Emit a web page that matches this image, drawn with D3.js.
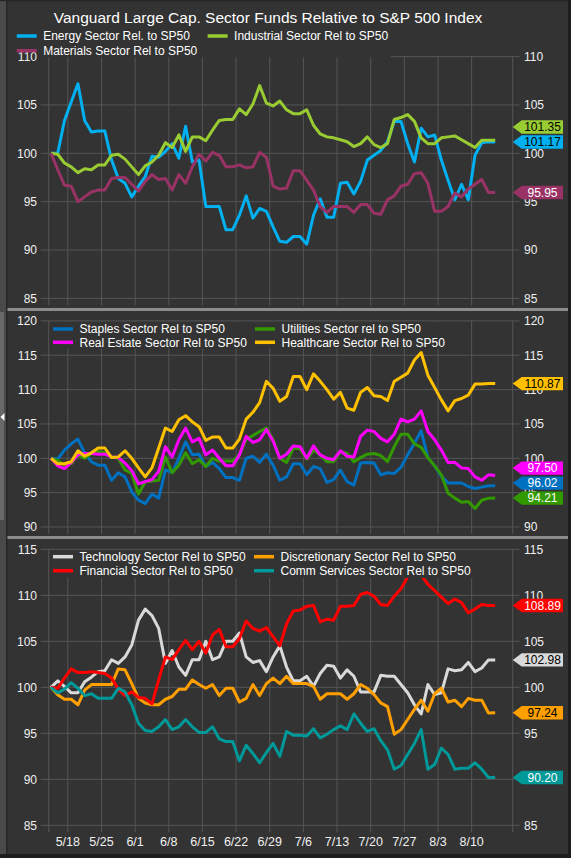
<!DOCTYPE html>
<html>
<head>
<meta charset="utf-8">
<script src="https://cdn.jsdelivr.net/npm/d3@7"></script>
<style>
  body { margin: 0; background: #333; }
  svg { display: block; font-family: "Liberation Sans", Arial, sans-serif; }
</style>
</head>
<body>
<svg id="chart" width="571" height="858"></svg>
<script>
// weekday categories (holidays carried forward in the source sheet)
const dates = ["5/13","5/14","5/15","5/18","5/19","5/20","5/21","5/22","5/25","5/26","5/27","5/28","5/29",
  "6/1","6/2","6/3","6/4","6/5","6/8","6/9","6/10","6/11","6/12","6/15","6/16","6/17","6/18","6/19",
  "6/22","6/23","6/24","6/25","6/26","6/29","6/30","7/1","7/2","7/3","7/6","7/7","7/8","7/9","7/10",
  "7/13","7/14","7/15","7/16","7/17","7/20","7/21","7/22","7/23","7/24","7/27","7/28","7/29","7/30","7/31",
  "8/3","8/4","8/5","8/6","8/7","8/10","8/11","8/12","8/13"];
const weekLabels = ["5/18","5/25","6/1","6/8","6/15","6/22","6/29","7/6","7/13","7/20","7/27","8/3","8/10"];

// panel 1
const energy = [100,100,103.4,105.3,107.2,103.4,102.2,102.3,102.3,99.3,97.4,96.9,95.5,96.6,97.6,99.7,99.6,100.2,101,99.5,
  102.8,99.1,99.3,94.5,94.5,94.5,92.1,92.1,93.6,95.6,93.3,94.3,94,92.4,90.9,90.8,91.4,91.4,90.6,93.6,
  95.3,93.4,93.4,96.9,97,95.8,97.1,99.3,99.8,100.3,101.2,103.3,103.3,101,99.1,102.6,101.7,101.9,99.3,97.2,
  95.2,96.8,95.2,99.8,101.1,101.2,101.17];
const industrial = [100,99.9,99,98.6,98,98.4,98.3,98.8,98.8,99.8,99.9,99.4,98.6,97.8,98.7,99.1,99.8,101.1,100.6,101.9,
  100.2,101.7,101.7,101.3,102.4,103.4,103.5,103.5,104.6,104,105.1,107,105.2,104.9,105.4,104.5,104.1,104.1,104.5,102.9,
  102,101.7,101.6,101.4,101.2,100.7,101,101.7,100.9,100.6,101,103.5,103.7,104,103.3,101.6,101,101,101.6,101.7,
  101.8,101.4,101,100.6,101.35,101.35,101.35];
const materials = [100,98.3,96.7,96.6,95,95.5,96,96.2,96.2,97.4,97.5,97.5,96.8,96.1,97.1,97.8,97.3,97.4,96.2,97.8,
  96.9,98.6,99.9,99.2,100.1,99.8,98.6,98.6,98.8,98.5,98.6,100.1,99.6,96.6,96.3,96.4,98.2,98.2,97.2,96.2,
  94.5,93.9,94.5,94.5,94.5,93.9,94.7,94.7,93.8,93.7,95.2,95.6,96.6,96.8,97.9,98,96.9,94,94,94.5,
  95.9,95.5,96.3,96.8,97.3,95.95,95.95];

// panel 2
const staples = [100,99.9,101.2,102.1,102.8,100.8,99.5,99,99,96.8,97.9,97.3,95.1,93.9,93.4,94.8,94.2,98.3,97.9,100,
  102.4,100.5,100.6,98.8,99.4,98.5,97.2,97.2,96.8,100,100.3,99.4,100.6,99,96.8,97.3,99.2,99.2,97.6,98.8,
  98.5,96.5,96.9,98.3,96.6,96.1,99.3,99.4,99.3,97.6,97.9,97.8,98.7,100.5,102.2,104,100.1,98.9,97.4,96.4,
  96.4,96.4,95.9,95.6,95.8,96,96.02];
const utilities = [100,99.7,99,99.2,100.5,100,100.7,101,100.8,100.2,100,98.3,97.8,94.8,96.6,96.7,96.8,100.2,97.9,99,
  100.8,99.2,99.8,98.8,100,99.6,99.6,99.6,100.5,102.8,103.3,103.9,104.4,102.7,100,99.4,101.5,101.4,99.9,101.2,
  100.5,99.5,99.5,101,100.7,99.5,100.1,100.6,100.7,100.4,99.5,101.7,103.5,103.5,102.1,101.6,100.1,98.9,97.6,94.9,
  94.2,93.6,93.7,92.7,93.9,94.2,94.21];
const realEstate = [100,98.9,98.5,99.4,100.5,100.7,100.7,100.6,100.6,100.2,100.1,99.3,98.2,96.3,96.6,96.9,98.1,101.7,100.2,102.7,
  104.4,102.4,102.9,100.5,101.2,100,98.9,98.9,100.5,103.2,102.3,102.7,104.2,102.5,100,100.6,101.8,101.7,100,101.8,
  100.5,100,99.8,101.1,100.3,100.2,103.2,104.1,103.9,102.9,102.4,103.5,105.7,105.3,105.7,106.9,103.9,102.7,101.2,99.4,
  99.4,98.6,98.5,97.3,96.8,97.6,97.5];
const healthcare = [100,99.2,99.2,99.5,101.1,100.3,100.8,101.5,101.5,100.1,100.2,101.1,100,98.6,97.3,98.6,101.5,104.4,103.9,105.6,
  106.2,105.3,104.6,102.6,103.1,103.1,101.5,101.5,102.8,105.7,106.7,108.1,111.2,110.2,108.3,109,111.9,111.9,110,112.3,
  111.2,110,108.6,109.6,107.3,107,109.6,110.3,109.1,109,108.4,111.2,111.8,112.4,114.3,115.4,112.1,110.3,108.5,106.9,
  108.4,108.7,109.2,110.8,110.8,110.9,110.87];

// panel 3
const technology = [100,100.7,100.1,99.4,99.4,100.6,101.1,101.7,101.8,103,102.6,103.3,104.6,107.3,108.5,107.8,106.4,102.6,104,102.2,
  101.3,103,103,105,103,103.3,105,105,105.9,103.3,102.7,102.9,101.7,103.3,104.5,102.2,100.7,100.7,101.2,100.1,
  101.5,102.4,102.3,101,101.9,101.2,99.5,99.5,99.5,101.3,101.2,101.2,100.3,99.4,98.1,97.1,100.3,99.2,99.4,102,
  101.8,101.9,102.7,101.7,102.1,102.98,102.98];
const discretionary = [100,99.2,98.7,98.7,98.1,99.7,100.3,100.3,100.3,100.3,102,101.9,100.4,98.8,98.3,98.1,98.1,98.7,99,99.8,
  99.8,100.8,100.3,99.9,100.3,99.1,99.9,99.9,98.4,98.8,100.3,99.1,100.4,101,100.4,101.2,100.4,100.4,100.4,100.1,
  98.7,99.3,99.3,99.3,98.7,99.3,100.3,99.9,99.2,98.3,97.9,94.9,95.4,96.5,97.6,98.6,97.4,99.3,99.9,98.4,
  98.6,97.9,98.8,98.6,98.6,97.2,97.24];
const financial = [100,99.9,101,102,101.6,101.6,101.7,101.6,101.5,101,99.8,99.1,99.5,98.9,98.8,98.2,100.8,103.3,103,104.1,
  105.1,104.1,105,103.7,105.7,106.3,104.4,104.4,105.3,107.2,106.4,106.1,106.5,105.5,104.5,106.9,108.3,108.4,108.8,108.9,
  107.1,107.4,107.3,108.8,108.8,108.9,110.1,110.3,109.9,109,108.9,109.9,110.7,112,112.9,112.2,111.2,110.5,109.8,109.1,
  109.6,109.2,108.1,108.5,109,108.9,108.89];
const commServices = [100,99.4,99.8,100.5,99.9,99.1,99.3,98.8,98.8,98.8,99.9,99.5,98.1,96.1,95.3,95.2,95.7,96.5,95.4,95.7,
  96.5,95.7,95.1,95.1,95.7,94.4,94.1,94.1,92,93.7,92.8,91.8,92.9,93.9,92.5,95.2,94.8,94.8,94.7,95.5,
  94.5,94.9,95.4,95.8,95.4,97.1,96.1,95.2,95.5,94.2,93.2,91.1,91.5,92.7,93.9,95.4,91.1,91.6,93.4,92.7,
  91.1,91.2,91.2,91.8,91.1,90.2,90.2];

const panels = [
  {
    domain: [85, 110], range: [298.4, 56.6], step: 5,
    legendBox: [14, 27, 377, 30.3], rows: [36, 50.7], cols: [16.7, 207.6],
    series: [
      {name: "Energy Sector Rel. to SP50", values: energy, color: "#00b0f0", ink: "#000", col: 0, row: 0},
      {name: "Industrial Sector Rel to SP50", values: industrial, color: "#99cc33", ink: "#000", col: 1, row: 0},
      {name: "Materials Sector Rel to SP50", values: materials, color: "#993366", ink: "#fff", col: 0, row: 1}
    ]
  },
  {
    domain: [90, 120], range: [527, 320.9], step: 5,
    legendBox: [50, 322, 398, 26.5], rows: [329, 342.3], cols: [53, 255],
    series: [
      {name: "Staples Sector Rel to SP50", values: staples, color: "#0070c0", ink: "#fff", col: 0, row: 0},
      {name: "Utilities Sector rel to SP50", values: utilities, color: "#339900", ink: "#fff", col: 1, row: 0},
      {name: "Real Estate Sector Rel to SP50", values: realEstate, color: "#ff00ff", ink: "#fff", col: 0, row: 1},
      {name: "Healthcare Sector Rel to SP50", values: healthcare, color: "#ffc000", ink: "#000", col: 1, row: 1}
    ]
  },
  {
    domain: [85, 115], range: [825.3, 549.3], step: 5,
    legendBox: [50, 550.5, 425, 27.5], rows: [556.7, 570.7], cols: [53, 254],
    series: [
      {name: "Technology Sector Rel to SP50", values: technology, color: "#d9d9d9", ink: "#000", col: 0, row: 0},
      {name: "Discretionary Sector Rel to SP50", values: discretionary, color: "#ff9f00", ink: "#000", col: 1, row: 0},
      {name: "Financial Sector Rel to SP50", values: financial, color: "#ff0000", ink: "#fff", col: 0, row: 1},
      {name: "Comm Services Sector Rel to SP50", values: commServices, color: "#009999", ink: "#fff", col: 1, row: 1}
    ]
  }
];

const svg = d3.select("#chart");
const plotLeft = 48.7, plotRight = 512.7;
const grid = "#555555";

// frame
svg.append("rect").attr("width", 571).attr("height", 858).attr("fill", "#333333");
svg.append("rect").attr("x", 0).attr("y", 0).attr("width", 6).attr("height", 858).attr("fill", "#4a4a4a");
svg.append("rect").attr("x", 6).attr("y", 0).attr("width", 1.5).attr("height", 858).attr("fill", "#262626");
svg.append("rect").attr("x", 0).attr("y", 312).attr("width", 4).attr("height", 208).attr("fill", "#686868");
svg.append("path").attr("d", "M0.5,417 L4.5,413 L4.5,421 Z").attr("fill", "#ffffff");
svg.append("rect").attr("x", 0).attr("y", 0).attr("width", 571).attr("height", 1.2).attr("fill", "#262626");
svg.append("rect").attr("x", 568).attr("y", 0).attr("width", 3).attr("height", 858).attr("fill", "#1e1e1e");
svg.append("rect").attr("x", 0).attr("y", 854).attr("width", 571).attr("height", 4).attr("fill", "#1e1e1e");
[308, 536].forEach(yy => {
  svg.append("rect").attr("x", 7.5).attr("y", yy).attr("width", 560.5).attr("height", 3).attr("fill", "#8c8c8c");
});

const x = d3.scaleLinear().domain([0, dates.length - 1]).range([51, 495.2]);
const tickPos = weekLabels.map(d => dates.indexOf(d) - 0.5);

svg.append("text")
  .attr("x", 268).attr("y", 23)
  .attr("text-anchor", "middle")
  .style("font-size", "15.5px")
  .style("fill", "#ffffff")
  .text("Vanguard Large Cap. Sector Funds Relative to S&P 500 Index");

panels.forEach((p, pi) => {
  const y = d3.scaleLinear().domain(p.domain).range(p.range);
  const yTicks = d3.range(p.domain[0], p.domain[1] + 0.1, p.step);
  const g = svg.append("g");

  // horizontal gridlines (extend out as ticks)
  g.selectAll(".hg").data(yTicks).enter().append("line")
    .attr("x1", plotLeft - 8).attr("x2", plotRight + 7)
    .attr("y1", d => y(d)).attr("y2", d => y(d))
    .attr("stroke", grid).attr("stroke-width", 1);

  // vertical gridlines
  const vx = [x.invert(plotLeft)].concat(tickPos).concat([x.invert(plotRight)]);
  g.selectAll(".vg").data(vx).enter().append("line")
    .attr("x1", d => x(d)).attr("x2", d => x(d))
    .attr("y1", p.range[1]).attr("y2", p.range[0] + 7)
    .attr("stroke", grid).attr("stroke-width", 1);

  // lines
  const line = d3.line().x((d, i) => x(i)).y(d => y(d));
  p.series.forEach(s => {
    g.append("path")
      .datum(s.values)
      .attr("d", line)
      .attr("fill", "none")
      .attr("stroke", s.color)
      .attr("stroke-width", 3)
      .attr("stroke-linejoin", "round");
  });

  // legend box
  const lb = p.legendBox;
  g.append("rect").attr("x", lb[0]).attr("y", lb[1]).attr("width", lb[2]).attr("height", lb[3]).attr("fill", "#333333");

  // axis labels
  g.selectAll(".yl").data(yTicks).enter().append("text")
    .attr("x", 37).attr("y", d => y(d) + 4.3)
    .attr("text-anchor", "end")
    .style("font-size", "12px").style("fill", "#f0f0f0")
    .text(d => d);
  g.selectAll(".yr").data(yTicks).enter().append("text")
    .attr("x", 524).attr("y", d => y(d) + 4.3)
    .attr("text-anchor", "start")
    .style("font-size", "12px").style("fill", "#f0f0f0")
    .text(d => d);

  // legend items
  p.series.forEach(s => {
    const lx = p.cols[s.col], ly = p.rows[s.row];
    g.append("line")
      .attr("x1", lx).attr("x2", lx + 20).attr("y1", ly).attr("y2", ly)
      .attr("stroke", s.color).attr("stroke-width", 3.5);
    g.append("text")
      .attr("x", lx + 26.5).attr("y", ly + 4.3)
      .style("font-size", "12px").style("fill", "#ffffff")
      .text(s.name);
  });

  // end-value flags, pushed apart from the bottom up
  const flags = p.series.map(s => {
    const v = s.values[s.values.length - 1];
    return {s: s, v: v, cy: y(v)};
  }).sort((a, b) => b.cy - a.cy);
  for (let i = 1; i < flags.length; i++) {
    flags[i].cy = Math.min(flags[i].cy, flags[i - 1].cy - 15);
  }
  flags.forEach(f => {
    const c = f.cy, h = 6.7;
    g.append("path")
      .attr("d", `M${plotRight},${c} L${plotRight + 9},${c - h} L563,${c - h} L563,${c + h} L${plotRight + 9},${c + h} Z`)
      .attr("fill", f.s.color);
    g.append("text")
      .attr("x", 542.5).attr("y", c + 4.3)
      .attr("text-anchor", "middle")
      .style("font-size", "12px").style("fill", f.s.ink)
      .text(f.v.toFixed(2));
  });

  // date labels on the bottom panel only
  if (pi === panels.length - 1) {
    g.selectAll(".xl").data(weekLabels).enter().append("text")
      .attr("x", (d, i) => x(tickPos[i]))
      .attr("y", 845.5)
      .attr("text-anchor", "middle")
      .style("font-size", "12.5px").style("fill", "#f0f0f0")
      .text(d => d);
  }
});
</script>
</body>
</html>
